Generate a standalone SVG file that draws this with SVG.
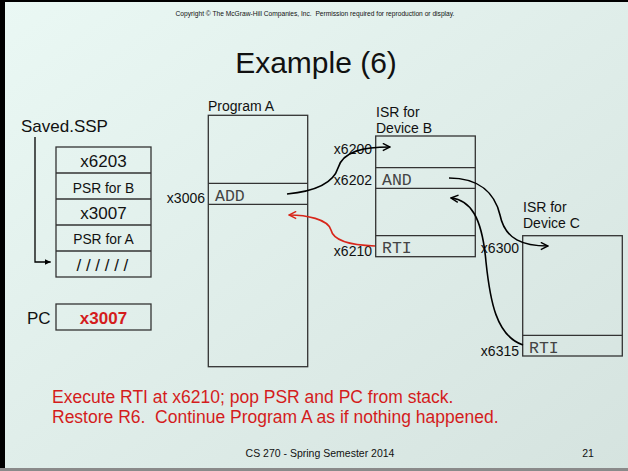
<svg xmlns="http://www.w3.org/2000/svg" width="628" height="471" viewBox="0 0 628 471">
<defs>
<linearGradient id="bg" x1="0" y1="0" x2="1" y2="1">
<stop offset="0" stop-color="#eaf8f4"/>
<stop offset="1" stop-color="#d5e3df"/>
</linearGradient>
<marker id="openblk" viewBox="0 0 10 10" refX="9" refY="5" markerWidth="9" markerHeight="9" markerUnits="userSpaceOnUse" orient="auto">
<path d="M1,1 L9,5 L1,9" fill="none" stroke="#000" stroke-width="1.6"/>
</marker>
<marker id="openred" viewBox="0 0 10 10" refX="9" refY="5" markerWidth="9" markerHeight="9" markerUnits="userSpaceOnUse" orient="auto">
<path d="M1,1 L9,5 L1,9" fill="none" stroke="#d8261a" stroke-width="1.6"/>
</marker>
<marker id="tri" viewBox="0 0 10 10" refX="10" refY="5" markerWidth="6" markerHeight="6" markerUnits="userSpaceOnUse" orient="auto">
<path d="M0,0 L10,5 L0,10 Z" fill="#000"/>
</marker>
</defs>
<style>
text{font-family:"Liberation Sans",Arial,sans-serif;fill:#111}
.box{fill:none;stroke:#333;stroke-width:1.3}
.mono{font-family:"Liberation Mono","Courier New",monospace;font-size:16.5px;fill:#444}
.lbl{font-size:14px}
.lr{font-size:14px;text-anchor:end}
.big{font-size:17px}
.mid{text-anchor:middle}
.red{fill:#d41c1c}
.pre{white-space:pre}
.conn{fill:none;stroke:#000;stroke-width:1.6}
</style>
<rect x="0" y="0" width="628" height="471" fill="url(#bg)"/>
<rect x="0" y="0" width="5" height="471" fill="#000"/>
<rect x="0" y="0" width="628" height="2" fill="#000"/>
<rect x="0" y="468" width="628" height="3" fill="#8a8a8a"/>

<text x="315" y="16" class="mid pre" style="font-size:6.65px" xml:space="preserve">Copyright © The McGraw-Hill Companies, Inc.  Permission required for reproduction or display.</text>
<text x="316" y="73" class="mid" style="font-size:30px">Example (6)</text>

<g id="stack">
<text x="21" y="131.5" class="big">Saved.SSP</text>
<rect x="56" y="147" width="95" height="130" class="box"/>
<line x1="56" y1="173" x2="151" y2="173" class="box"/>
<line x1="56" y1="199" x2="151" y2="199" class="box"/>
<line x1="56" y1="225" x2="151" y2="225" class="box"/>
<line x1="56" y1="251" x2="151" y2="251" class="box"/>
<text x="103.5" y="166.5" class="big mid">x6203</text>
<text x="103.5" y="192.5" class="mid" style="font-size:13.8px">PSR for B</text>
<text x="103.5" y="219" class="big mid">x3007</text>
<text x="103.5" y="244" class="mid" style="font-size:13.8px">PSR for A</text>
<text x="76.5" y="271" class="big" style="letter-spacing:4.7px">//////</text>
</g>

<g id="pc">
<text x="27" y="323.5" class="big">PC</text>
<rect x="56" y="304" width="95" height="26" class="box"/>
<text x="103.5" y="323.5" class="big mid red" style="font-weight:bold">x3007</text>
</g>

<g id="programA">
<text x="208" y="111" class="lbl">Program A</text>
<rect x="208.3" y="115.3" width="99.4" height="251.4" class="box"/>
<line x1="208.3" y1="183.3" x2="307.7" y2="183.3" class="box"/>
<line x1="208.3" y1="204.3" x2="307.7" y2="204.3" class="box"/>
<text x="215" y="201" class="mono">ADD</text>
<text x="205" y="203" class="lr">x3006</text>
</g>

<g id="isrB">
<text x="376" y="116.7" class="lbl">ISR for</text>
<text x="376" y="132.5" class="lbl">Device B</text>
<rect x="375.7" y="136" width="99.6" height="120.7" class="box"/>
<line x1="375.7" y1="167.7" x2="475.3" y2="167.7" class="box"/>
<line x1="375.7" y1="188.3" x2="475.3" y2="188.3" class="box"/>
<line x1="375.7" y1="235.7" x2="475.3" y2="235.7" class="box"/>
<text x="382" y="185" class="mono">AND</text>
<text x="382" y="253" class="mono">RTI</text>
<text x="372" y="154" class="lr">x6200</text>
<text x="372" y="185" class="lr">x6202</text>
<text x="372" y="256" class="lr">x6210</text>
</g>

<g id="isrC">
<text x="523" y="211.7" class="lbl">ISR for</text>
<text x="523" y="228" class="lbl">Device C</text>
<rect x="522.7" y="235.7" width="99.6" height="120.3" class="box"/>
<line x1="522.7" y1="335.3" x2="622.3" y2="335.3" class="box"/>
<text x="529" y="352.7" class="mono">RTI</text>
<text x="519" y="252.7" class="lr">x6300</text>
<text x="519" y="355.7" class="lr">x6315</text>
</g>

<g id="connectors">
<path d="M35,137 L35,262 L50.7,262" fill="none" stroke="#000" stroke-width="1.3" marker-end="url(#tri)"/>
<path d="M287,194 C318,191 334,181 338,168 C343,151 364,147 390,147" class="conn" marker-end="url(#openblk)"/>
<path d="M375,246 C345,245 333,239 331,230 C328,219 306,215 289,215" fill="none" stroke="#d8261a" stroke-width="1.6" marker-end="url(#openred)"/>
<path d="M449,178 C480,178 495,194 500,215 C505,240 524,246 548,246" class="conn" marker-end="url(#openblk)"/>
<path d="M523,345 C496,336 490,300 486,262 C482,216 470,200 451,198" class="conn" marker-end="url(#openblk)"/>
</g>

<text x="52" y="402.7" class="red" style="font-size:17.5px">Execute RTI at x6210; pop PSR and PC from stack.</text>
<text x="52" y="423.3" class="red pre" style="font-size:17.5px" xml:space="preserve">Restore R6.  Continue Program A as if nothing happened.</text>
<text x="320" y="456.5" class="mid" style="font-size:10.5px">CS 270 - Spring Semester 2014</text>
<text x="588" y="456.5" class="mid" style="font-size:10.5px">21</text>
</svg>
